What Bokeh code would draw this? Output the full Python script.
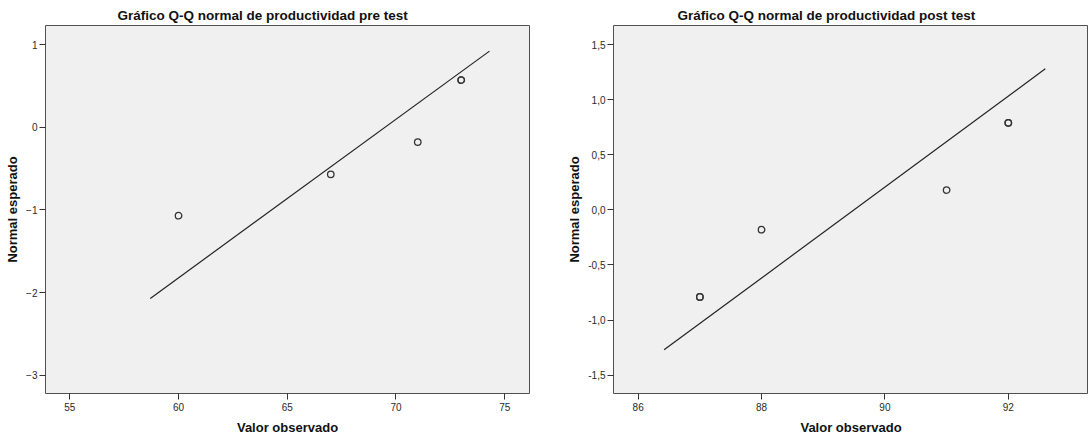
from bokeh.plotting import figure
from bokeh.layouts import row
from bokeh.models import Range1d, FixedTicker, CustomJSTickFormatter
from bokeh.embed import file_html
from bokeh.resources import INLINE

# ---- data: pre test ----
pre_title = "Gráfico Q-Q normal de productividad pre test"
pre_obs = [60, 67, 71, 73, 73]
pre_exp = [-1.07, -0.57, -0.18, 0.57, 0.57]
pre_line_x = [58.7, 74.3]
pre_line_y = [-2.07, 0.92]
pre_xticks = [55, 60, 65, 70, 75]
pre_yticks = [-3, -2, -1, 0, 1]

# ---- data: post test ----
post_title = "Gráfico Q-Q normal de productividad post test"
post_obs = [87, 87, 88, 91, 92, 92]
post_exp = [-0.79, -0.79, -0.18, 0.18, 0.79, 0.79]
post_line_x = [86.42, 92.6]
post_line_y = [-1.27, 1.28]
post_xticks = [86, 88, 90, 92]
post_yticks = [-1.5, -1.0, -0.5, 0.0, 0.5, 1.0, 1.5]

x_label = "Valor observado"
y_label = "Normal esperado"

FONT = "Liberation Sans"


def make(title, obs, exp, lx, ly, xt, yt, xr, yr, width, mbl, mbr, offset, comma):
    p = figure(width=width, height=437, output_backend="svg", toolbar_location=None,
               x_range=Range1d(*xr), y_range=Range1d(*yr),
               min_border_left=mbl, min_border_right=mbr,
               min_border_top=25, min_border_bottom=44)
    p.background_fill_color = "#f0f0f0"
    p.border_fill_color = "white"
    p.outline_line_color = "#505050"
    p.outline_line_width = 1
    p.xgrid.visible = False
    p.ygrid.visible = False

    p.title.text = title
    p.title.align = "left"
    p.title.offset = offset
    p.title.standoff = 6
    p.title.text_font = FONT
    p.title.text_font_size = "13.5px"
    p.title.text_font_style = "bold"
    p.title.text_color = "#111111"

    p.xaxis.ticker = FixedTicker(ticks=xt)
    p.yaxis.ticker = FixedTicker(ticks=yt)
    if comma:
        p.yaxis.formatter = CustomJSTickFormatter(code="return tick.toFixed(1).replace('.', ',');")
    for ax in (p.xaxis[0], p.yaxis[0]):
        ax.axis_line_color = None
        ax.major_tick_in = 0
        ax.major_tick_out = 6
        ax.major_tick_line_color = "#333333"
        ax.minor_tick_line_color = None
        ax.major_label_text_font = FONT
        ax.major_label_text_font_size = "10px"
        ax.major_label_text_color = "#2a2a2a"
        ax.axis_label_text_font = FONT
        ax.axis_label_text_font_size = "13px"
        ax.axis_label_text_font_style = "bold"
        ax.axis_label_text_color = "#111111"
    p.xaxis.axis_label = x_label
    p.yaxis.axis_label = y_label
    p.xaxis.major_label_standoff = 3
    p.yaxis.major_label_standoff = 2
    p.xaxis.axis_label_standoff = 6
    p.yaxis.axis_label_standoff = 3

    p.line(lx, ly, line_color="#222222", line_width=1.2)
    p.scatter(obs, exp, marker="circle", size=6.5, fill_color=None,
              line_color="#333333", line_width=1.3)
    return p


p1 = make(pre_title, pre_obs, pre_exp, pre_line_x, pre_line_y, pre_xticks, pre_yticks,
          (53.88, 76.14), (-3.22, 1.23), 545, 45, 16, 72, False)
p2 = make(post_title, post_obs, post_exp, post_line_x, post_line_y, post_xticks, post_yticks,
          (85.6, 93.3), (-1.666, 1.673), 543, 68, 0, 64, True)

layout = row(p1, p2)
open("out.html", "w").write(file_html(layout, INLINE))
